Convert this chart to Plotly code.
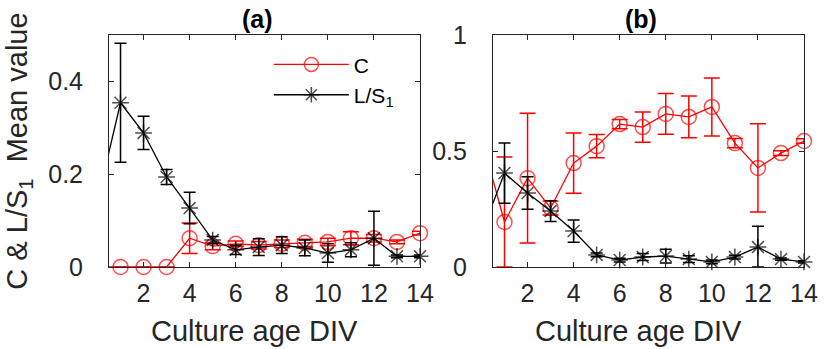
import plotly.graph_objects as go
from plotly.subplots import make_subplots

# Culture age (DIV); the x=0 point only shows as the clipped line stub at the left edge
div = list(range(0, 15))

# panel (a)
c_a = [0.0, 0.0, 0.0, 0.0, 0.062, 0.045, 0.050, 0.047, 0.050, 0.052, 0.054, 0.062, 0.062, 0.054, 0.073]
c_a_err = [0.0, 0.0, 0.0, 0.0, 0.033, 0.008, 0.006, 0.008, 0.008, 0.008, 0.008, 0.014, 0.008, 0.004, 0.004]
ls_a = [0.142, 0.354, 0.289, 0.194, 0.127, 0.058, 0.037, 0.043, 0.047, 0.041, 0.030, 0.037, 0.062, 0.023, 0.023]
ls_a_err = [0.0, 0.128, 0.036, 0.016, 0.034, 0.008, 0.010, 0.018, 0.018, 0.017, 0.020, 0.015, 0.058, 0.003, 0.003]

# panel (b)
c_b = [0.556, 0.194, 0.383, 0.254, 0.448, 0.521, 0.616, 0.603, 0.660, 0.647, 0.690, 0.534, 0.427, 0.491, 0.543]
c_b_err = [0.0, 0.28, 0.28, 0.03, 0.13, 0.05, 0.02, 0.065, 0.088, 0.09, 0.125, 0.02, 0.19, 0.01, 0.01]
ls_b = [0.147, 0.405, 0.319, 0.241, 0.155, 0.052, 0.030, 0.043, 0.047, 0.034, 0.022, 0.043, 0.086, 0.034, 0.022]
ls_b_err = [0.0, 0.13, 0.07, 0.045, 0.048, 0.008, 0.008, 0.015, 0.03, 0.015, 0.008, 0.008, 0.09, 0.005, 0.005]

x_ticks = [2, 4, 6, 8, 10, 12, 14]

FONT = "Liberation Sans, Arial, Helvetica, sans-serif"
AX = "#262626"
RED = "#ff0000"
BLACK = "#000000"


def _series(x, y, err, color, symbol, size, cap, name, show):
    # hide the marker of the x=0 point, it sits outside the axes
    sizes = [0] + [size] * (len(x) - 1)
    return go.Scatter(
        x=x, y=y, name=name, showlegend=show, mode="lines+markers", cliponaxis=False,
        line=dict(color=color, width=1.3),
        marker=dict(symbol=symbol, size=sizes, color=color, line=dict(color=color, width=1.5)),
        # lower bars stop at the axis, as in the original
        error_y=dict(type="data", array=err, arrayminus=[min(e, v) for e, v in zip(err, y)],
                     color=color, thickness=1.5, width=cap),
    )


fig = make_subplots(rows=1, cols=2, horizontal_spacing=0.105)

fig.add_trace(_series(div, c_a, c_a_err, RED, "circle-open", 15, 8, "C", True), row=1, col=1)
fig.add_trace(_series(div, ls_a, ls_a_err, BLACK, "asterisk-open", 14, 6, "L/S<sub>1</sub>", True), row=1, col=1)
fig.add_trace(_series(div, c_b, c_b_err, RED, "circle-open", 15, 8, "C", False), row=1, col=2)
fig.add_trace(_series(div, ls_b, ls_b_err, BLACK, "asterisk-open", 14, 6, "L/S<sub>1</sub>", False), row=1, col=2)

axis_style = dict(showline=True, linecolor=AX, linewidth=1, mirror="ticks", ticks="inside",
                  ticklen=5, tickcolor=AX, tickwidth=1, showgrid=False, zeroline=False,
                  tickfont=dict(size=25, color=AX, family=FONT))
fig.update_xaxes(axis_style)
fig.update_yaxes(axis_style)
fig.update_xaxes(range=[0.5, 14], tickvals=x_ticks, ticklabelstandoff=4)
fig.update_yaxes(range=[0, 0.5], tickvals=[0, 0.2, 0.4], ticktext=["0", "0.2", "0.4"],
                 ticklabelstandoff=20, row=1, col=1,
                 title=dict(text="C & L/S<sub>1</sub>  Mean value",
                            font=dict(size=29, color=AX, family=FONT), standoff=12))
fig.update_yaxes(range=[0, 1], tickvals=[0, 0.5, 1], ticktext=["0", "0.5", "1"],
                 ticklabelstandoff=20, row=1, col=2)

# panel titles and x labels sit a little left of the axes centre in the original
for ref, label in (("x", "(a)"), ("x2", "(b)")):
    fig.add_annotation(text=f"<b>{label}</b>", xref=f"{ref} domain", yref="paper",
                       x=0.5, y=1.0, xshift=-7, yshift=0, yanchor="bottom", showarrow=False,
                       font=dict(size=25, color=BLACK, family=FONT))
    fig.add_annotation(text="Culture age DIV", xref=f"{ref} domain", yref="paper",
                       x=0.5, y=0.0, xshift=-10, yshift=-46, yanchor="top", showarrow=False,
                       font=dict(size=29, color=AX, family=FONT))

fig.update_layout(
    width=830, height=349,
    margin=dict(l=109, r=17, t=35, b=82),
    paper_bgcolor="white", plot_bgcolor="white",
    font=dict(family=FONT, color=AX),
    legend=dict(x=0.23, y=0.96, xanchor="left", yanchor="top", bgcolor="rgba(0,0,0,0)",
                font=dict(size=21, color=BLACK, family=FONT), itemwidth=75, tracegroupgap=0),
)

# the page's default 8px body margin would shift the figure
fig.write_html("out.html", config={"displayModeBar": False},
               post_script="document.body.style.margin='0';")
